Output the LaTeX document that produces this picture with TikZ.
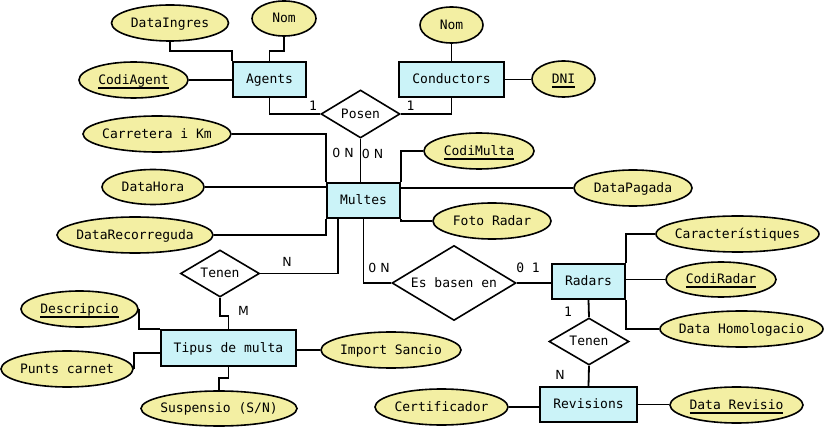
\documentclass[tikz,border=0pt]{standalone}
\usepackage{fontspec}
\setmonofont{DejaVu Sans Mono}
\setsansfont{DejaVu Sans}
\usetikzlibrary{shapes.geometric}
\definecolor{entfill}{RGB}{203,243,248}
\definecolor{attfill}{RGB}{243,239,163}
\newcommand\keyattr[1]{\setbox0=\hbox{#1}\rlap{\rule[-4.4pt]{\wd0}{1.8pt}}\box0}
\tikzset{
  every node/.style={font=\ttfamily\fontsize{13}{15}\selectfont},
  every label/.style={inner sep=0pt, text height=10pt, text depth=1.4pt},
  entity/.style={draw, line width=1.8pt, fill=entfill, inner sep=0pt, minimum height=35pt, text height=10pt, text depth=1.4pt},
  attr/.style={draw, line width=1.6pt, fill=attfill, ellipse, inner sep=0pt, minimum height=36pt},
  rel/.style={draw, line width=1.6pt, fill=white, diamond, inner sep=0pt},
  card/.style={inner sep=0pt, font=\ttfamily\fontsize{13}{15}\selectfont},
  cards/.style={inner sep=0pt, font=\sffamily\fontsize{12.5}{15}\selectfont},
  link/.style={line width=1.8pt},
}
\begin{document}
\begin{tikzpicture}[x=1pt,y=-1pt]
\useasboundingbox (0,0) rectangle (824,427);
% relationships
\node[rel, minimum width=79pt, minimum height=48pt, label=center:Posen] (posen) at (360.5,114) {};
\node[rel, minimum width=79pt, minimum height=47pt, label=center:Tenen] (tenen1) at (220,273.5) {};
\node[rel, minimum width=124pt, minimum height=75pt, label=center:{Es basen en}] (esbasen) at (454,283) {};
\node[rel, minimum width=80pt, minimum height=47pt, label=center:Tenen] (tenen2) at (589,341.5) {};
% entities
\node[entity, minimum width=73pt] (agents) at (269.5,79.5) {Agents};
\node[entity, minimum width=105pt] (conductors) at (451.5,79.5) {Conductors};
\node[entity, minimum width=73pt] (multes) at (363.5,200.5) {Multes};
\node[entity, minimum width=73pt] (radars) at (588.5,281.5) {Radars};
\node[entity, minimum width=135pt, minimum height=36pt] (tipus) at (228.5,348) {Tipus de multa};
\node[entity, minimum width=97pt] (revisions) at (588.5,404.5) {Revisions};
% attributes
\node[attr, minimum width=117pt, label=center:DataIngres] (dataingres) at (170,23) {};
\node[attr, minimum width=64pt, minimum height=35pt, label=center:Nom] (nomA) at (284,18.5) {};
\node[attr, minimum width=109pt, label=center:\keyattr{CodiAgent}] (codiagent) at (133.5,80) {};
\node[attr, minimum width=63pt, label=center:Nom] (nomC) at (451.5,25) {};
\node[attr, minimum width=63pt, label=center:\keyattr{DNI}] (dni) at (563.5,79) {};
\node[attr, minimum width=148pt, label=center:{Carretera i Km}] (carretera) at (157,134) {};
\node[attr, minimum width=102pt, minimum height=35pt, label=center:DataHora] (datahora) at (153,187) {};
\node[attr, minimum width=156pt, label=center:DataRecorreguda] (datarec) at (135,235) {};
\node[attr, minimum width=110pt, label=center:\keyattr{CodiMulta}] (codimulta) at (479,151) {};
\node[attr, minimum width=118pt, label=center:DataPagada] (datapagada) at (633,188) {};
\node[attr, minimum width=118pt, label=center:{Foto Radar}] (fotoradar) at (492,221) {};
\node[attr, minimum width=163pt, label=center:Característiques] (caract) at (737.5,234) {};
\node[attr, minimum width=110pt, minimum height=35pt, label=center:\keyattr{CodiRadar}] (codiradar) at (721,279.5) {};
\node[attr, minimum width=163pt, label=center:{Data Homologacio}] (datahomo) at (741.5,329) {};
\node[attr, minimum width=117pt, label=center:\keyattr{Descripcio}] (descripcio) at (79.5,309) {};
\node[attr, minimum width=132pt, label=center:{Punts carnet}] (punts) at (67,369) {};
\node[attr, minimum width=156pt, minimum height=35pt, label=center:{Suspensio (S/N)}] (suspensio) at (219,408.5) {};
\node[attr, minimum width=140pt, label=center:{Import Sancio}] (importsancio) at (391,350) {};
\node[attr, minimum width=133pt, label=center:Certificador] (certificador) at (441.5,407) {};
\node[attr, minimum width=133pt, label=center:\keyattr{Data Revisio}] (datarevisio) at (736.5,405) {};
% connectors
\draw[link] (dataingres.south) -- ++(0,9.5) -| (agents.north west);
\draw[link] (nomA.south) -- ++(0,14) -| (agents.north);
\draw[link] (codiagent.east) -- (codiagent.east -| agents.west);
\draw[link] (agents.south) |- (posen.west);
\draw[link] (conductors.south) |- (posen.east);
\draw[link] (nomC.south) -- (conductors.north);
\draw[link] (conductors.east) -- (conductors.east -| dni.west);
\draw[link] (posen.south) -- (posen.south |- multes.north);
\draw[link] (carretera.east) -| (multes.north west);
\draw[link] (datarec.east) -| (multes.south west);
\draw[link] (datahora.east) -- (datahora.east -| multes.west);
\draw[link] (codimulta.west) -| (multes.north east);
\draw[link] (fotoradar.west) -| (multes.south east);
\draw[link] (datapagada.west) -- (datapagada.west -| multes.east);
\draw[link] ([xshift=-25.5pt]multes.south) |- (tenen1.east);
\draw[link] (multes.south) |- (esbasen.west);
\draw[link] (esbasen.east) -- (esbasen.east -| radars.west);
\draw[link] (tenen1.south) -- ++(0,18) -| (tipus.north);
\draw[link] (descripcio.east) |- (tipus.north west);
\draw[link] (punts.east) |- ([yshift=-4.7pt]tipus.west);
\draw[link] (suspensio.north) -- ++(0,-12.5) -| (tipus.south);
\draw[link] (importsancio.west) -- (importsancio.west -| tipus.east);
\draw[link] (caract.west) -| (radars.north east);
\draw[link] (datahomo.west) -| (radars.south east);
\draw[link] (codiradar.west) -- (codiradar.west -| radars.east);
\draw[link] (radars.south) -- (tenen2.north);
\draw[link] (tenen2.south) -- (revisions.north);
\draw[link] (certificador.east) -- (certificador.east -| revisions.west);
\draw[link] (revisions.east) -- (revisions.east -| datarevisio.west);
% cardinalities
\node[card] (k1) at (313,106) {1};
\node[card] (k2) at (410.5,106) {1};
\node[cards] (k3) at (343,153) {0 N};
\node[cards] (k4) at (372.5,154) {0 N};
\node[cards] (k5) at (287,262) {N};
\node[cards] (k6) at (243.5,311) {M};
\node[cards] (k7) at (379,268) {0 N};
\node[card] (k8) at (528,268) {0 1};
\node[card] (k9) at (568,312) {1};
\node[cards] (k10) at (560,375) {N};
\end{tikzpicture}
\end{document}
